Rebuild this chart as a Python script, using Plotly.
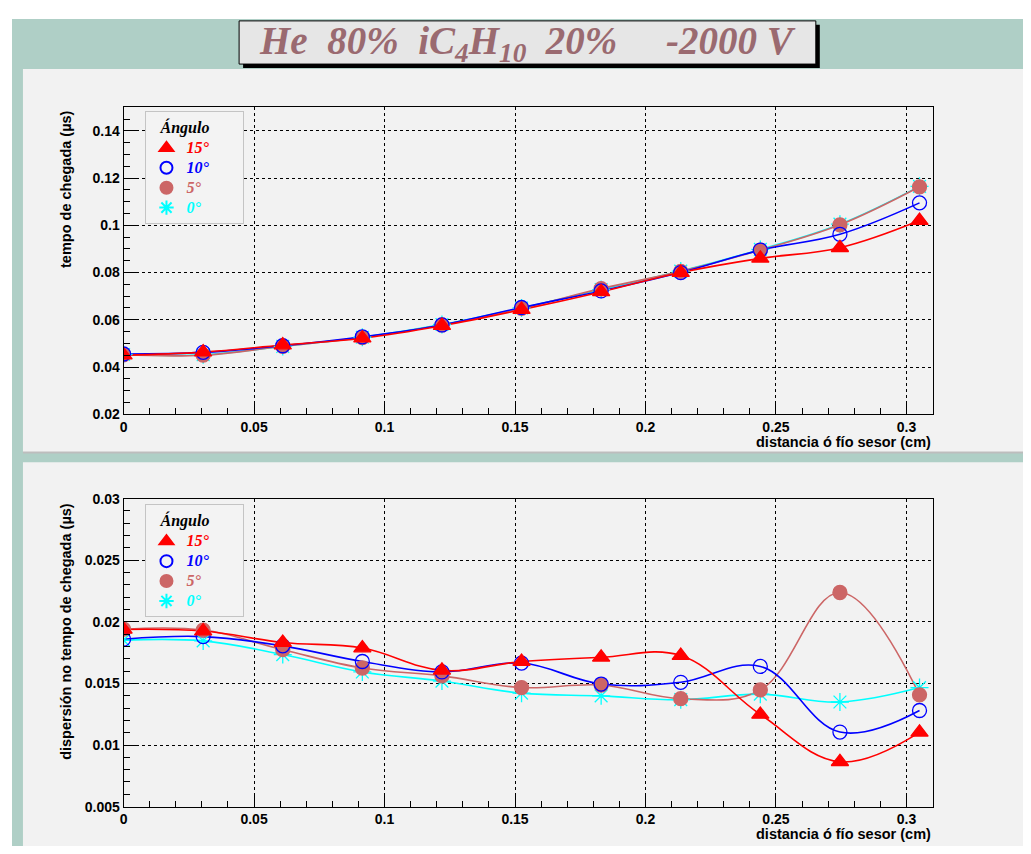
import plotly.graph_objects as go

# distance to the sense wire (cm)
x_cm = [0, 0.0305, 0.061, 0.0915, 0.122, 0.1525, 0.183, 0.2135, 0.244, 0.2745, 0.305]

# arrival time (us) per angle
t_15 = [0.0450, 0.0463, 0.0493, 0.0522, 0.0575, 0.0643, 0.0718, 0.0800, 0.0860, 0.0905, 0.1020]
t_10 = [0.0455, 0.0462, 0.0490, 0.0528, 0.0578, 0.0652, 0.0722, 0.0800, 0.0895, 0.0962, 0.1095]
t_5 = [0.0452, 0.0450, 0.0488, 0.0525, 0.0578, 0.0648, 0.0732, 0.0805, 0.0895, 0.1002, 0.1163]
t_0 = [0.0453, 0.0452, 0.0487, 0.0526, 0.0580, 0.0650, 0.0728, 0.0806, 0.0898, 0.1005, 0.1165]

# arrival time spread (us) per angle
d_15 = [0.01938, 0.01925, 0.01832, 0.01787, 0.01606, 0.01678, 0.01712, 0.01726, 0.01248, 0.00864, 0.01103]
d_10 = [0.01859, 0.01880, 0.01805, 0.01678, 0.01593, 0.01665, 0.01495, 0.01509, 0.01638, 0.01105, 0.01280]
d_5 = [0.01940, 0.01933, 0.01774, 0.01625, 0.01561, 0.01466, 0.01487, 0.01376, 0.01447, 0.02238, 0.01407]
d_0 = [0.01851, 0.01845, 0.01734, 0.01593, 0.01519, 0.01421, 0.01399, 0.01368, 0.01413, 0.01349, 0.01466]

# page has an 8px body margin, so keep the figure inside the window
OFF = 8
W, H = 1031 - 2 * OFF, 854 - 2 * OFF


def px(x):
    return (x - OFF) / W


def py(y):
    return 1 - (y - OFF) / H


PINK = "#cc6666"
series = [
    # label, colour, symbol
    ("0°", "#00ffff", "asterisk-open"),
    ("5°", PINK, "circle"),
    ("10°", "#0000ff", "circle-open"),
    ("15°", "#ff0000", "triangle-up"),
]
ranks = {"15°": 1, "10°": 2, "5°": 3, "0°": 4}
PAD = "&nbsp;" * 9

fig = go.Figure()

for data, xa, ya, leg in [
    ({"0°": t_0, "5°": t_5, "10°": t_10, "15°": t_15}, "x", "y", "legend"),
    ({"0°": d_0, "5°": d_5, "10°": d_10, "15°": d_15}, "x2", "y2", "legend2"),
]:
    for name, color, symbol in series:
        fig.add_trace(
            go.Scatter(
                x=x_cm,
                y=data[name],
                mode="lines",
                line=dict(color=color, width=1.6, shape="spline", smoothing=1.1),
                xaxis=xa,
                yaxis=ya,
                showlegend=False,
                hoverinfo="skip",
            )
        )
    for name, color, symbol in series:
        fig.add_trace(
            go.Scatter(
                x=x_cm,
                y=data[name],
                mode="markers",
                name=f"<span style='color:{color};font-size:16px'>{name}</span>{PAD}",
                marker=dict(
                    symbol=symbol,
                    size=14 if "circle" in symbol else 15,
                    color=color,
                    line=dict(color=color, width=1.3),
                ),
                xaxis=xa,
                yaxis=ya,
                legend=leg,
                legendrank=ranks[name],
            )
        )

# canvas / pads
shapes = [
    dict(type="rect", xref="paper", yref="paper", x0=px(8), x1=1.02, y0=-0.02, y1=py(11),
         fillcolor="#afcfc6", line=dict(width=0), layer="below"),
    dict(type="rect", xref="paper", yref="paper", x0=px(19), x1=1.02, y0=py(453), y1=py(62),
         fillcolor="#f2f2f2", line=dict(width=0), layer="below"),
    dict(type="line", xref="paper", yref="paper", x0=px(19), x1=1.02, y0=py(453), y1=py(453),
         line=dict(color="#bdbdbd", width=2), layer="below"),
    dict(type="rect", xref="paper", yref="paper", x0=px(19), x1=1.02, y0=-0.02, y1=py(463),
         fillcolor="#f2f2f2", line=dict(width=0), layer="below"),
    # title box with shadow
    dict(type="rect", xref="paper", yref="paper", x0=px(240), x1=px(819), y0=py(61), y1=py(17),
         fillcolor="#000000", line=dict(width=0)),
    dict(type="rect", xref="paper", yref="paper", x0=px(236), x1=px(815), y0=py(57), y1=py(13),
         fillcolor="#e6e6e6", line=dict(color="#000000", width=1)),
]

tickfont = dict(family="Liberation Sans", size=14, color="black", weight="bold")
titlefont = dict(family="Liberation Sans", size=14.5, color="black", weight="bold")
axis_common = dict(
    showline=True, linecolor="black", linewidth=1, mirror=True,
    ticks="inside", ticklen=12, tickcolor="black", tickwidth=1,
    showgrid=True, gridcolor="black", griddash="dot", gridwidth=1,
    zeroline=False, tickfont=tickfont, tickformat="~g",
)


def minor(step):
    return dict(dtick=step, ticks="inside", ticklen=6, tickcolor="black", showgrid=False)


xdom = [px(120), px(933)]
fig.update_layout(
    width=W, height=H,
    margin=dict(l=0, r=0, t=0, b=0),
    paper_bgcolor="white",
    plot_bgcolor="rgba(0,0,0,0)",
    shapes=shapes,
    xaxis=dict(domain=xdom, anchor="y", range=[0, 0.3103], dtick=0.05, tick0=0,
               minor=minor(0.01), **axis_common),
    yaxis=dict(domain=[py(414), py(101)], anchor="x", range=[0.02, 0.15], dtick=0.02, tick0=0,
               minor=minor(0.005), **axis_common),
    xaxis2=dict(domain=xdom, anchor="y2", range=[0, 0.3103], dtick=0.05, tick0=0,
                minor=minor(0.01), **axis_common),
    yaxis2=dict(domain=[py(814), py(500)], anchor="x2", range=[0.005, 0.03], dtick=0.005, tick0=0,
                minor=minor(0.001), **axis_common),
)

legend_style = dict(
    bgcolor="#f3f3f3", bordercolor="#c4c4c4", borderwidth=1,
    font=dict(family="Liberation Serif", size=13, style="italic", weight="bold"),
    title=dict(text="&nbsp;&nbsp;&nbsp;Ángulo",
               font=dict(family="Liberation Serif", size=16, color="black",
                         style="italic", weight="bold")),
    xanchor="left", yanchor="top", itemsizing="constant",
    traceorder="normal",
)
fig.update_layout(
    legend=dict(x=px(142), y=py(105), **legend_style),
    legend2=dict(x=px(142), y=py(506), **legend_style),
)

annotations = [
    dict(text="He  80%  iC<sub>4</sub>H<sub>10</sub>  20%     -2000 V",
         x=px(526), y=py(36), xref="paper", yref="paper", showarrow=False,
         xanchor="center", yanchor="middle",
         font=dict(family="Liberation Serif", size=39, color="#9a6a70",
                   style="italic", weight="bold")),
]
for y_lab, y_title, y_top in [(442, "tempo de chegada (µs)", 102),
                               (842, "dispersión no tempo de chegada (µs)", 502)]:
    annotations.append(dict(text="distancia ó fío sesor (cm)", x=px(933), y=py(y_lab),
                            xref="paper", yref="paper", showarrow=False,
                            xanchor="right", yanchor="middle", font=titlefont))
    annotations.append(dict(text=y_title, x=px(62), y=py(y_top), xref="paper", yref="paper",
                            showarrow=False, textangle=-90, xanchor="center", yanchor="top",
                            font=titlefont))
fig.update_layout(annotations=annotations)

fig.write_html("out.html")
